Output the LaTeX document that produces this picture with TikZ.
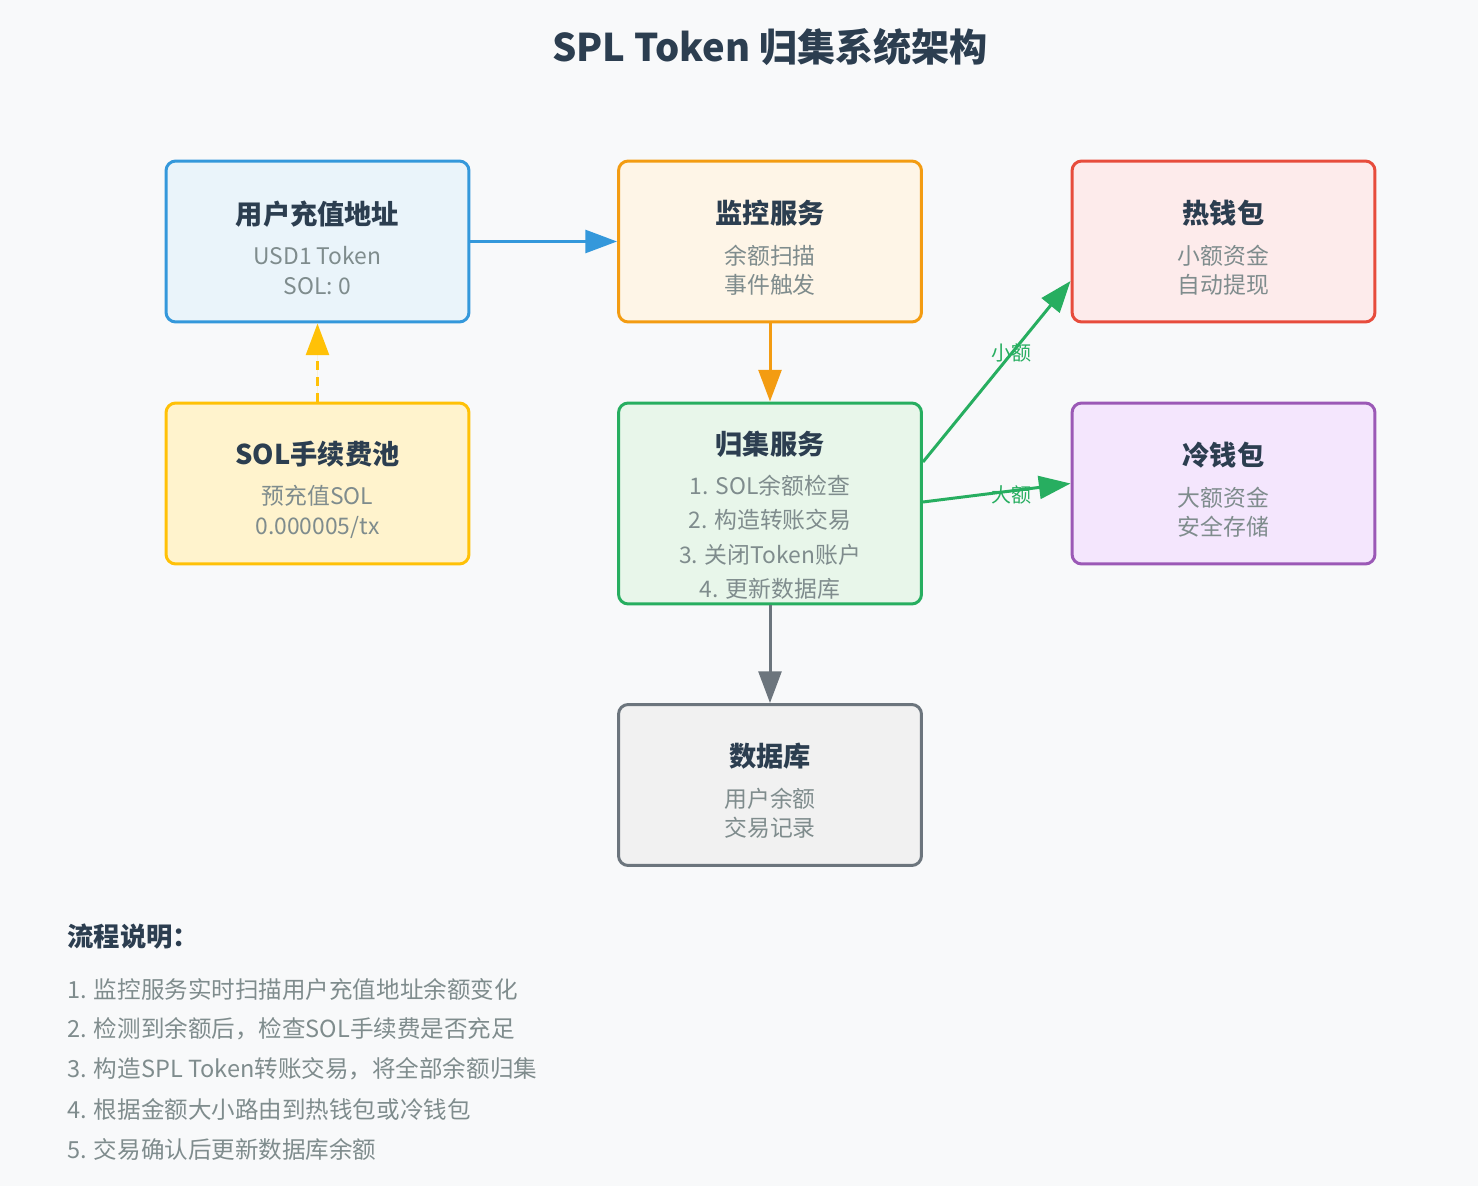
\documentclass[tikz,border=0pt]{standalone}
\usepackage{fontspec}
\setmainfont{Noto Sans CJK SC}
\usetikzlibrary{arrows.meta,calc}

\definecolor{bgcol}{HTML}{F8F9FA}
\definecolor{ttlcol}{HTML}{2C3E50}
\definecolor{subcol}{HTML}{7F8C8D}
\definecolor{blueline}{HTML}{3498DB}
\definecolor{bluefill}{HTML}{EAF4FA}
\definecolor{orangeline}{HTML}{F39C12}
\definecolor{orangefill}{HTML}{FEF5E7}
\definecolor{redline}{HTML}{E74C3C}
\definecolor{redfill}{HTML}{FDEBEB}
\definecolor{yellowline}{HTML}{FFC107}
\definecolor{yellowfill}{HTML}{FFF3CD}
\definecolor{greenline}{HTML}{27AE60}
\definecolor{greenfill}{HTML}{E8F6EA}
\definecolor{purpleline}{HTML}{9B59B6}
\definecolor{purplefill}{HTML}{F4E6FD}
\definecolor{greyline}{HTML}{6C757D}
\definecolor{greyfill}{HTML}{F1F1F1}

\newcommand\cardtitle[1]{{\bfseries\color{ttlcol}\fontsize{15.5}{17}\selectfont #1}}

\begin{document}
\begin{tikzpicture}[x=0.02cm, y=-0.02cm,
    card/.style={draw, line width=1.7pt, rounded corners=5.5pt,
      minimum width=6.06cm, minimum height=3.22cm},
    cardtxt/.style={align=center, text=subcol, font=\fontsize{13}{17}\selectfont},
    flow/.style={line width=1.7pt, -{Triangle[length=18pt,width=13pt]}},
    edgelbl/.style={text=greenline, font=\fontsize{11.4}{13}\selectfont},
    steptxt/.style={anchor=west, inner sep=0pt, text=subcol, font=\fontsize{13.4}{16}\selectfont}]
    \path[use as bounding box, fill=bgcol] (0,0) rectangle (1478,1186);

    \node[text=ttlcol, font=\bfseries\fontsize{21.7}{26}\selectfont] (title) at (770,47) {SPL Token 归集系统架构};

    % boxes
    \node[card, draw=blueline, fill=bluefill] (user) at (317.5,241.5) {};
    \node[card, draw=orangeline, fill=orangefill] (monitor) at (770,241.5) {};
    \node[card, draw=redline, fill=redfill] (hot) at (1223.5,241.5) {};
    \node[card, draw=yellowline, fill=yellowfill] (pool) at (317.5,483.5) {};
    \node[card, draw=greenline, fill=greenfill, minimum height=4.02cm] (collect) at (770,503.5) {};
    \node[card, draw=purpleline, fill=purplefill] (cold) at (1223.5,483.5) {};
    \node[card, draw=greyline, fill=greyfill] (db) at (770,785) {};

    \node[cardtxt] (user-txt) at (317.5,248) {\cardtitle{用户充值地址}\\[6pt] USD1 Token\\ SOL: 0};
    \node[cardtxt] (monitor-txt) at (770,248) {\cardtitle{监控服务}\\[6pt] 余额扫描\\ 事件触发};
    \node[cardtxt] (hot-txt) at (1223.5,248) {\cardtitle{热钱包}\\[6pt] 小额资金\\ 自动提现};
    \node[cardtxt] (pool-txt) at (317.5,490) {\cardtitle{SOL手续费池}\\[6pt] 预充值SOL\\ 0.000005/tx};
    \node[cardtxt, font=\fontsize{13}{19.5}\selectfont] (collect-txt) at (770,515)
      {\cardtitle{归集服务}\\[3.5pt] 1. SOL余额检查\\ 2. 构造转账交易\\ 3. 关闭Token账户\\ 4. 更新数据库};
    \node[cardtxt] (cold-txt) at (1223.5,490) {\cardtitle{冷钱包}\\[6pt] 大额资金\\ 安全存储};
    \node[cardtxt] (db-txt) at (770,791) {\cardtitle{数据库}\\[6pt] 用户余额\\ 交易记录};

    % connectors
    \draw[flow, draw=blueline, fill=blueline] (user.east) -- (monitor.west);
    \draw[flow, draw=orangeline, fill=orangeline] (monitor.south) -- (collect.north);
    \draw[flow, draw=greyline, fill=greyline] (collect.south) -- (db.north);
    \draw[flow, draw=yellowline, fill=yellowline, dash pattern=on 5pt off 4pt] (pool.north) -- (user.south);
    \draw[flow, draw=greenline, fill=greenline] ($(collect.east)+(0,-41.5)$) -- ($(hot.west)+(0,39.5)$)
      node[edgelbl, pos=0.6] (small-lbl) {小额};
    \draw[flow, draw=greenline, fill=greenline] ($(collect.east)+(0,-1.5)$) -- (cold.west)
      node[edgelbl, pos=0.6, yshift=-2.5pt] (large-lbl) {大额};

    % notes
    \node[anchor=west, inner sep=0pt, text=ttlcol, font=\bfseries\fontsize{15}{18}\selectfont] (notes) at (67,937) {流程说明：};
    \foreach \i/\t in {1/监控服务实时扫描用户充值地址余额变化, 2/检测到余额后，检查SOL手续费是否充足,
        3/构造SPL Token转账交易，将全部余额归集, 4/根据金额大小路由到热钱包或冷钱包, 5/交易确认后更新数据库余额}
      \node[steptxt] (step\i) at (67,949+40*\i) {\i. \t};
\end{tikzpicture}
\end{document}
